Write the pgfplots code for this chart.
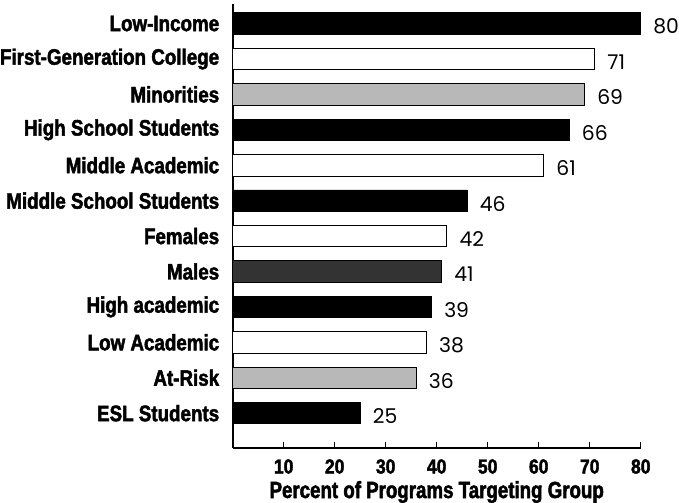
\documentclass[border=0pt]{standalone}
\usepackage{pgfplots}
\pgfplotsset{compat=1.18}
\usepackage{fontspec}
\setmainfont{Poppins}
\newfontfamily\catfont{Liberation Sans}[FakeStretch=0.84, FakeBold=2]
\newfontfamily\labfont{Liberation Sans}[FakeStretch=0.80, FakeBold=2]
\newfontfamily\tickfont{Liberation Sans}[FakeStretch=0.86, FakeBold=2]

\begin{document}
\begin{tikzpicture}
  \begin{axis}[
      scale only axis,
      width=400bp, height=435bp,
      xmin=0, xmax=80, ymin=-0.98, ymax=11.55,
      axis lines=left,
      axis line style={-, line width=1.8bp},
      xbar, bar width=21bp, bar shift=0pt,
      xtick={10,20,...,80},
      major tick length=6bp,
      xtick style={line width=1bp, black},
      tick align=inside,
      ytick={0,...,11},
      ytick style={draw=none},
      yticklabels={ESL Students, At-Risk, Low Academic, High academic, Males, Females,
        Middle School Students, Middle Academic, High School Students, Minorities,
        First-Generation College, Low-Income},
      yticklabel style={font=\catfont\bfseries\fontsize{22}{22}\selectfont, inner sep=0pt, xshift=-13bp},
      xticklabel style={font=\tickfont\bfseries\fontsize{20}{20}\selectfont, inner sep=0pt, yshift=-11bp},
      /pgf/number format/assume math mode=true,
      xlabel={Percent of Programs Targeting Group},
      xlabel style={font=\labfont\bfseries\fontsize{23}{23}\selectfont, inner sep=0pt, yshift=-7bp},
      nodes near coords,
      every node near coord/.append style={font=\fontsize{20}{20}\selectfont, anchor=west, inner sep=0pt, xshift=12bp, yshift=-3bp, black},
      clip=false,
    ]
    % black bars
    \addplot[draw=black, fill=black, line width=0.8bp] coordinates {(25,0) (39,3) (46,6) (66,8) (80,11)};
    % white bars
    \addplot[draw=black, fill=white, line width=0.8bp] coordinates {(38,2) (42,5) (61,7) (71,10)};
    % light gray bars
    \addplot[draw=black, fill=black!28, line width=0.8bp] coordinates {(36,1) (69,9)};
    % dark gray bar
    \addplot[draw=black, fill=black!80, line width=0.8bp] coordinates {(41,4)};
  \end{axis}
  % small empty margin above the axis
  \path (current axis.north) ++(0,4bp) coordinate (topmargin);
\end{tikzpicture}
\end{document}
